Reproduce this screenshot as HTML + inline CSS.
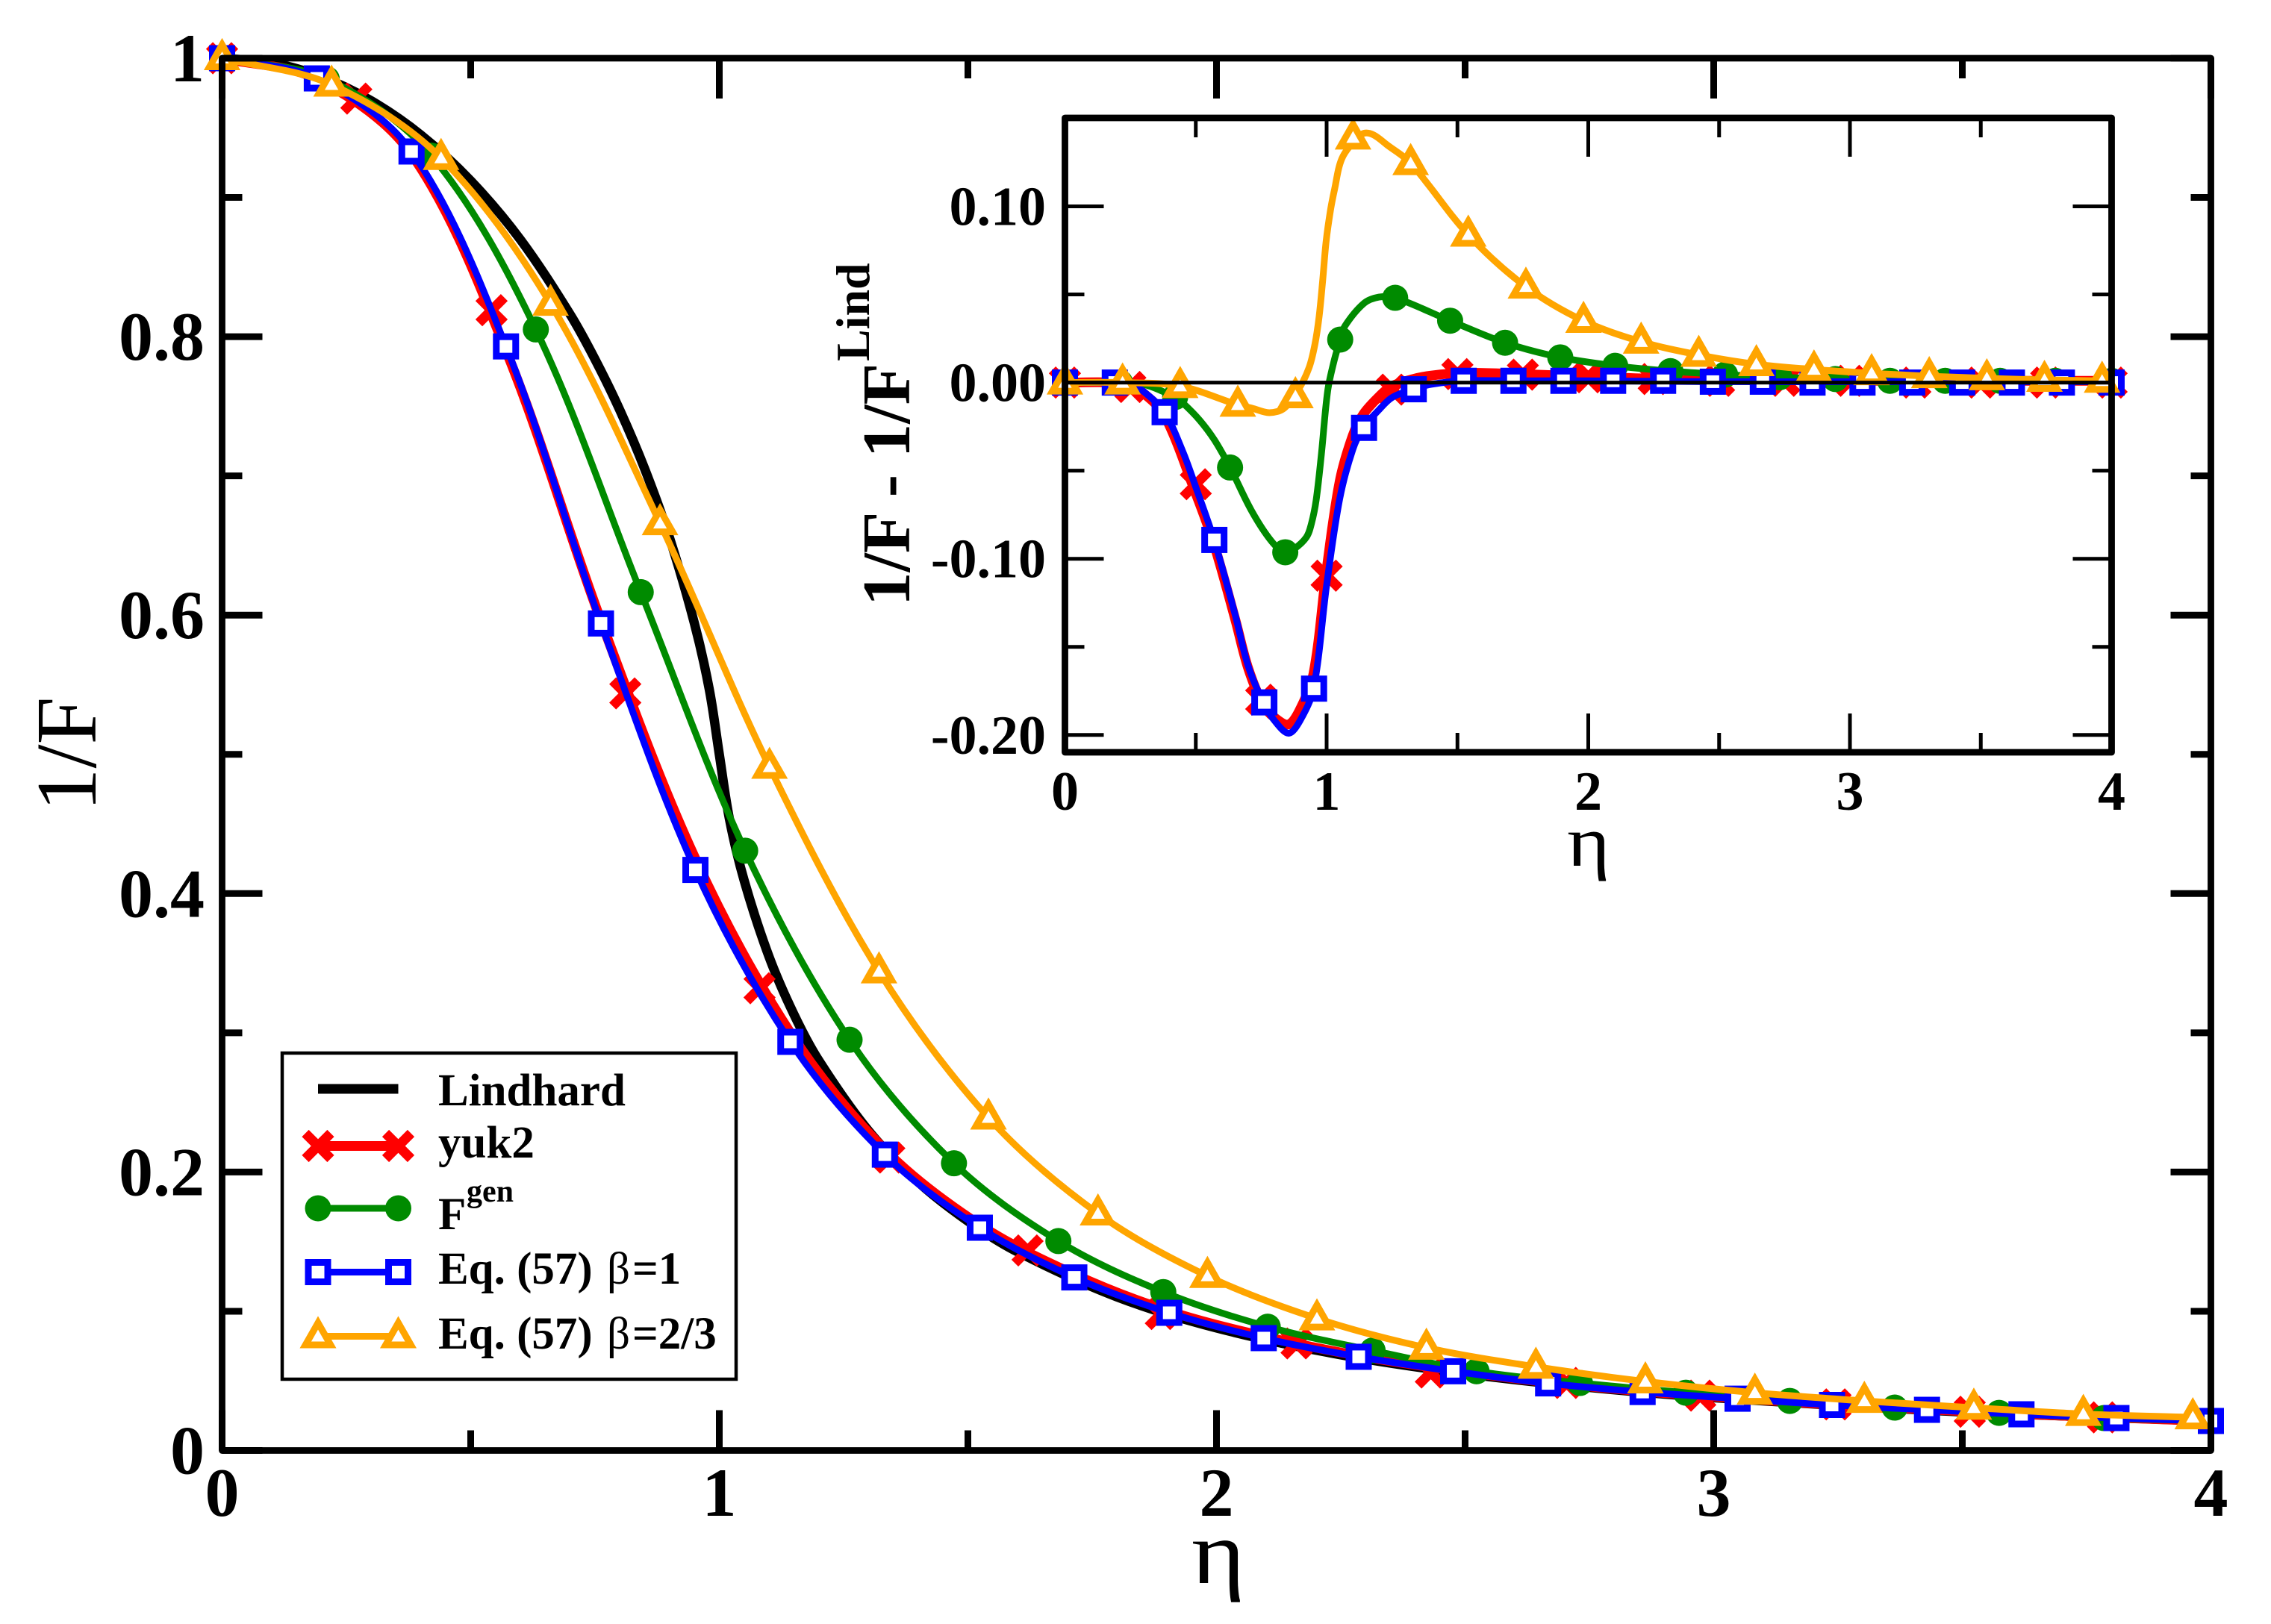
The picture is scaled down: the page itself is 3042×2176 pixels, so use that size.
<!DOCTYPE html>
<html lang="en">
<head>
<meta charset="utf-8">
<title>1/F versus eta chart</title>
<style>
html,body{margin:0;padding:0;background:#fff;}
svg{display:block;}
text{font-family:"Liberation Serif","DejaVu Serif",serif;fill:#000;}
.b{font-weight:bold;}
</style>
</head>
<body>
<svg id="chart" xmlns="http://www.w3.org/2000/svg" width="3042" height="2176" viewBox="0 0 3042 2176">
  <rect x="0" y="0" width="3042" height="2176" fill="#fff"/>
  <g id="main-series"></g>
  <g id="main-axes"></g>
  <text transform="translate(128,1087) rotate(-90)" font-size="115">1/F</text>
  <text transform="translate(1632,2121) scale(1.2,1.05)" font-size="115" text-anchor="middle">η</text>

  <g id="inset-series"></g>
  <g id="inset-axes"></g>
  <text class="b" transform="translate(1218,812) rotate(-90)" font-size="91">1/F - 1/F</text>
  <text class="b" transform="translate(1164,484) rotate(-90)" font-size="64">Lind</text>
  <text transform="translate(2128,1160) scale(1.2,1.05)" font-size="92" text-anchor="middle">η</text>

  <g id="legend">
    <rect x="378" y="1411" width="608" height="437" fill="#fff" stroke="#000" stroke-width="4.5"/>
    <g id="legend-keys"></g>
    <text class="b" x="587" y="1481" font-size="61">Lindhard</text>
    <text class="b" x="587" y="1551" font-size="61">yuk2</text>
    <text class="b" x="587" y="1647" font-size="61">F</text>
    <text class="b" x="625" y="1610" font-size="42">gen</text>
    <text class="b" x="587" y="1720" font-size="61">Eq. (57) <tspan x="813" font-weight="normal">β</tspan><tspan x="847">=1</tspan></text>
    <text class="b" x="587" y="1807" font-size="61">Eq. (57) <tspan x="813" font-weight="normal">β</tspan><tspan x="847">=2/3</tspan></text>
  </g>
</svg>
<script>
// ---------- main panel data ----------
var lindhardEta = [0,0.1,0.2,0.3,0.4,0.5,0.6,0.7,0.75,0.8,0.85,0.9,0.95,0.98,1,1.02,1.05,1.1,1.15,1.2,1.3,1.4,1.5,1.6,1.8,2,2.25,2.5,2.75,3,3.5,4];
var lindhardVal = [1,0.9967,0.9866,0.9694,0.9448,0.912,0.8697,0.816,0.7838,0.7472,0.705,0.6554,0.594,0.5464,0.5,0.4543,0.4094,0.3547,0.3133,0.2802,0.2297,0.1928,0.1647,0.1426,0.1103,0.088,0.0687,0.0552,0.0453,0.0379,0.0277,0.0211];

var yuk2LineEta = [0,0.1905,0.381,0.571,0.762,0.952,1.143,1.333,1.524,1.714,1.905,2.095,2.286,2.476,2.667,2.857,3.048,3.238,3.429,3.619,3.81,4];
var yuk2LineVal = [1,0.985,0.931,0.79,0.596,0.425,0.3,0.216,0.162,0.1265,0.1,0.082,0.068,0.0575,0.049,0.0425,0.0375,0.033,0.0295,0.0262,0.0235,0.0212];
var yuk2MarkEta = [0,0.27,0.542,0.811,1.081,1.342,1.62,1.888,2.161,2.431,2.704,2.973,3.245,3.515,3.783];
var yuk2MarkVal = [1,0.971,0.819,0.5438,0.332,0.2104,0.1437,0.098,0.0769,0.056,0.0485,0.0394,0.0331,0.0278,0.0238];

var fgenEta = [0,0.2105,0.421,0.631,0.842,1.052,1.262,1.472,1.682,1.893,2.103,2.314,2.523,2.731,2.944,3.153,3.364,3.574,3.785,4];
var fgenVal = [1,0.985,0.93,0.8052,0.6165,0.4308,0.295,0.2063,0.1504,0.1138,0.0889,0.0718,0.0569,0.0485,0.0415,0.0356,0.0308,0.027,0.0233,0.0213];

var eqBeta1Eta = [0,0.1905,0.381,0.571,0.762,0.952,1.143,1.333,1.524,1.714,1.905,2.095,2.286,2.476,2.667,2.857,3.048,3.238,3.429,3.619,3.81,4];
var eqBeta1Val = [1,0.9855,0.933,0.793,0.594,0.417,0.2935,0.2125,0.16,0.1243,0.0989,0.0807,0.0673,0.0569,0.0482,0.042,0.0372,0.0327,0.0292,0.026,0.0233,0.0212];

var eqBeta23Eta = [0,0.2202,0.4404,0.6606,0.8808,1.101,1.3212,1.5414,1.7616,1.9818,2.202,2.4222,2.6424,2.8626,3.0828,3.303,3.5232,3.7434,3.9636];
var eqBeta23Val = [1,0.981,0.9283,0.8236,0.666,0.491,0.3441,0.2391,0.1702,0.1253,0.0948,0.0738,0.0601,0.0496,0.0415,0.0356,0.0307,0.0262,0.0238];

// ---------- inset panel data ----------
var insetBlueLineEta = [0,0.19,0.25,0.3,0.38,0.45,0.5,0.57,0.65,0.7,0.758,0.8,0.855,0.9,0.95,1,1.05,1.1,1.14,1.2,1.25,1.33,1.4,1.52,1.71,2,2.5,3,3.5,4];
var insetBlueLineVal = [0,0,-0.001,-0.005,-0.0168,-0.039,-0.0593,-0.0893,-0.1315,-0.1607,-0.1815,-0.1917,-0.199,-0.1915,-0.1737,-0.115,-0.066,-0.038,-0.0257,-0.0155,-0.0085,-0.0038,-0.001,0.001,0.001,0.001,0.0005,0.0005,0.0005,0.0005];
var insetBlueMarkVal = [0,0,-0.0168,-0.0893,-0.1815,-0.1737,-0.0257,-0.0038,0.001,0.001,0.001,0.001,0.001,0.0005,0.0005,0,0,0,0,0,0,0];

var insetRedLineEta = [0,0.19,0.25,0.3,0.38,0.5,0.57,0.65,0.7,0.758,0.8,0.855,0.9,0.95,1,1.05,1.1,1.14,1.2,1.25,1.33,1.4,1.52,1.71,1.9,2.29,2.67,3,3.5,4];
var insetRedLineVal = [0,0,-0.002,-0.006,-0.0185,-0.063,-0.092,-0.134,-0.162,-0.183,-0.19,-0.194,-0.185,-0.165,-0.106,-0.056,-0.03,-0.018,-0.008,-0.002,0.002,0.004,0.0055,0.005,0.004,0.002,0.0015,0.001,0.001,0.001];
var insetRedMarkEta = [0,0.25,0.5,0.75,1,1.25,1.5,1.75,2,2.25,2.5,2.75,3,3.25,3.5,3.75,4];
var insetRedMarkVal = [0,-0.0025,-0.0577,-0.18,-0.1096,-0.004,0.0048,0.0045,0.003,0.002,0.001,0.001,0.001,0,0,0,0];

var insetGreenLineEta = [0,0.21,0.3,0.42,0.45,0.514,0.571,0.631,0.714,0.789,0.84,0.875,0.923,0.942,0.96,0.98,1.004,1.028,1.052,1.07,1.143,1.2,1.262,1.472,1.682,1.893,2.103,2.314,2.523,2.731,2.944,3.153,3.364,3.574,3.785,4];
var insetGreenLineVal = [0,0,-0.001,-0.0082,-0.0115,-0.0212,-0.0325,-0.0482,-0.073,-0.09,-0.0963,-0.0945,-0.0877,-0.08,-0.0667,-0.0407,-0.0048,0.012,0.0244,0.0321,0.045,0.0485,0.0481,0.0351,0.0226,0.0143,0.0095,0.0065,0.0045,0.003,0.002,0.001,0.001,0.001,0.001,0.001];
var insetGreenMarkVal = [0,0,-0.0082,-0.0482,-0.0963,0.0244,0.0481,0.0351,0.0226,0.0143,0.0095,0.0065,0.0045,0.003,0.002,0.001,0.001,0.001,0.001,0.001];

var insetOrangeLineEta = [0,0.22,0.44,0.66,0.714,0.781,0.838,0.895,0.933,0.955,0.971,0.985,0.998,1.015,1.03,1.058,1.111,1.143,1.18,1.23,1.3212,1.5414,1.7616,1.9818,2.202,2.4222,2.6424,2.8626,3.0828,3.303,3.5232,3.7434,3.9636,4];
var insetOrangeLineVal = [0,0,-0.002,-0.0126,-0.0145,-0.0171,-0.0145,-0.0033,0.0085,0.0215,0.037,0.058,0.08,0.098,0.1094,0.127,0.138,0.1415,0.1405,0.135,0.1245,0.0839,0.0544,0.035,0.0232,0.0157,0.0104,0.0074,0.0053,0.0036,0.0024,0.0015,0.001,0.001];
var insetOrangeMarkEta = [0,0.2202,0.4404,0.6606,0.8808,1.101,1.3212,1.5414,1.7616,1.9818,2.202,2.4222,2.6424,2.8626,3.0828,3.303,3.5232,3.7434,3.9636];
var insetOrangeMarkVal = [0,0,-0.002,-0.0126,-0.0078,0.139,0.1245,0.0839,0.0544,0.035,0.0232,0.0157,0.0104,0.0074,0.0053,0.0036,0.0024,0.0015,0.001];

// ---------- tick labels ----------
var mainXTickValues = [0,1,2,3,4];
var mainXTickLabels = ["0","1","2","3","4"];
var mainXMinorValues = [0.5,1.5,2.5,3.5];
var mainYTickValues = [0,0.2,0.4,0.6,0.8,1];
var mainYTickLabels = ["0","0.2","0.4","0.6","0.8","1"];
var mainYMinorValues = [0.1,0.3,0.5,0.7,0.9];

var insetXTickValues = [0,1,2,3,4];
var insetXTickLabels = ["0","1","2","3","4"];
var insetXMinorValues = [0.5,1.5,2.5,3.5];
var insetYTickValues = [-0.2,-0.1,0,0.1];
var insetYTickLabels = ["-0.20","-0.10","0.00","0.10"];
var insetYMinorValues = [-0.15,-0.05,0.05];

// ---------- scales ----------
var SVGNS = "http://www.w3.org/2000/svg";
function mainX(v){ return 297.5 + v * (2961.5 - 297.5) / 4; }
function mainY(v){ return 1943.5 - v * (1943.5 - 78); }
function insetX(v){ return 1426.5 + v * (2828.5 - 1426.5) / 4; }
function insetY(v){ return 512.6 - v * 2361; }

var COLOR_RED = "#ff0000", COLOR_GREEN = "#008b00", COLOR_BLUE = "#0000ff", COLOR_ORANGE = "#ffa500";

function smoothPath(etas, vals, sx, sy){
  var p = [], i;
  for (i = 0; i < etas.length; i++) p.push([sx(etas[i]), sy(vals[i])]);
  var t = [0];
  for (i = 1; i < p.length; i++) t.push(t[i-1] + Math.hypot(p[i][0]-p[i-1][0], p[i][1]-p[i-1][1]) + 0.001);
  function tangent(k){
    var a = Math.max(0, k-1), b = Math.min(p.length-1, k+1);
    return [(p[b][0]-p[a][0])/(t[b]-t[a]), (p[b][1]-p[a][1])/(t[b]-t[a])];
  }
  var d = "M" + p[0][0].toFixed(2) + " " + p[0][1].toFixed(2);
  for (i = 0; i < p.length-1; i++){
    var h = (t[i+1]-t[i])/3, m0 = tangent(i), m1 = tangent(i+1);
    d += "C" + (p[i][0]+m0[0]*h).toFixed(2) + " " + (p[i][1]+m0[1]*h).toFixed(2) + " " +
         (p[i+1][0]-m1[0]*h).toFixed(2) + " " + (p[i+1][1]-m1[1]*h).toFixed(2) + " " +
         p[i+1][0].toFixed(2) + " " + p[i+1][1].toFixed(2);
  }
  return d;
}

function drawCurve(parent, etas, vals, sx, sy, color, width, name){
  var el = document.createElementNS(SVGNS, "path");
  el.setAttribute("d", smoothPath(etas, vals, sx, sy));
  el.setAttribute("fill", "none");
  el.setAttribute("stroke", color);
  el.setAttribute("stroke-width", width);
  el.setAttribute("stroke-linejoin", "round");
  
  
  parent.appendChild(el);
}

function drawCross(parent, cx, cy, name){
  var el = document.createElementNS(SVGNS, "path");
  var d = 17;
  el.setAttribute("d", "M"+(cx-d)+" "+(cy-d)+"L"+(cx+d)+" "+(cy+d)+"M"+(cx+d)+" "+(cy-d)+"L"+(cx-d)+" "+(cy+d));
  el.setAttribute("stroke", COLOR_RED);
  el.setAttribute("stroke-width", 13);
  el.setAttribute("fill", "none");
  
  
  parent.appendChild(el);
}
function drawCircle(parent, cx, cy, name){
  var el = document.createElementNS(SVGNS, "circle");
  el.setAttribute("cx", cx);
  el.setAttribute("cy", cy);
  el.setAttribute("r", 17.5);
  el.setAttribute("fill", COLOR_GREEN);
  
  
  parent.appendChild(el);
}
function drawSquare(parent, cx, cy, name){
  var el = document.createElementNS(SVGNS, "rect");
  el.setAttribute("x", cx-13);
  el.setAttribute("y", cy-13);
  el.setAttribute("width", 26);
  el.setAttribute("height", 26);
  el.setAttribute("fill", "#fff");
  el.setAttribute("stroke", COLOR_BLUE);
  el.setAttribute("stroke-width", 9);
  
  
  parent.appendChild(el);
}
function drawTriangle(parent, cx, cy, name){
  var el = document.createElementNS(SVGNS, "polygon");
  el.setAttribute("points", cx+","+(cy-18)+" "+(cx+16.8)+","+(cy+11.5)+" "+(cx-16.8)+","+(cy+11.5));
  el.setAttribute("fill", "#fff");
  el.setAttribute("stroke", COLOR_ORANGE);
  el.setAttribute("stroke-width", 9);
  
  
  parent.appendChild(el);
}
function drawMarks(parent, etas, vals, sx, sy, drawer, name){
  for (var i = 0; i < etas.length; i++) drawer(parent, sx(etas[i]), sy(vals[i]), name);
}

function addLine(parent, x1, y1, x2, y2, width, name){
  var el = document.createElementNS(SVGNS, "line");
  el.setAttribute("x1", x1);
  el.setAttribute("y1", y1);
  el.setAttribute("x2", x2);
  el.setAttribute("y2", y2);
  el.setAttribute("stroke", "#000");
  el.setAttribute("stroke-width", width);
  
  
  parent.appendChild(el);
}
function addLabel(parent, x, y, str, size, anchor, name){
  var el = document.createElementNS(SVGNS, "text");
  el.setAttribute("x", x);
  el.setAttribute("y", y);
  el.setAttribute("font-size", size);
  el.setAttribute("font-weight", "bold");
  el.setAttribute("text-anchor", anchor);
  
  
  el.textContent = str;
  parent.appendChild(el);
}

function drawAxes(parent, o){
  var i, x0 = o.sx(0), x1 = o.sx(4), yB = o.yBottom, yT = o.yTop;
  o.xMajor.forEach(function(v){
    addLine(parent, o.sx(v), yB, o.sx(v), yB - o.majorLen, o.tickW, "x-major-tick");
    addLine(parent, o.sx(v), yT, o.sx(v), yT + o.majorLen, o.tickW, "x-major-tick-top");
  });
  o.xMinor.forEach(function(v){
    addLine(parent, o.sx(v), yB, o.sx(v), yB - o.minorLen, o.tickW, "x-minor-tick");
    addLine(parent, o.sx(v), yT, o.sx(v), yT + o.minorLen, o.tickW, "x-minor-tick-top");
  });
  o.yMajor.forEach(function(v){
    addLine(parent, x0, o.sy(v), x0 + o.majorLen, o.sy(v), o.tickW, "y-major-tick");
    addLine(parent, x1, o.sy(v), x1 - o.majorLen, o.sy(v), o.tickW, "y-major-tick-right");
  });
  o.yMinor.forEach(function(v){
    addLine(parent, x0, o.sy(v), x0 + o.minorLen, o.sy(v), o.tickW, "y-minor-tick");
    addLine(parent, x1, o.sy(v), x1 - o.minorLen, o.sy(v), o.tickW, "y-minor-tick-right");
  });
  var frame = document.createElementNS(SVGNS, "rect");
  frame.setAttribute("x", x0);
  frame.setAttribute("y", yT);
  frame.setAttribute("width", x1 - x0);
  frame.setAttribute("height", yB - yT);
  frame.setAttribute("fill", "none");
  frame.setAttribute("stroke", "#000");
  frame.setAttribute("stroke-width", 8.8);
  frame.setAttribute("stroke-linejoin", "round");
  
  
  parent.appendChild(frame);
  for (i = 0; i < o.xMajor.length; i++)
    addLabel(parent, o.sx(o.xMajor[i]), o.xLabelY, o.xLabels[i], o.fontSize, "middle", "x-tick-label");
  for (i = 0; i < o.yMajor.length; i++)
    addLabel(parent, o.yLabelX, o.sy(o.yMajor[i]) + o.yLabelOff, o.yLabels[i], o.fontSize, "end", "y-tick-label");
}

// ---------- main series ----------
var ms = document.getElementById("main-series");
drawCurve(ms, lindhardEta, lindhardVal, mainX, mainY, "#000", 12.5, "lindhard-line");
drawCurve(ms, yuk2LineEta, yuk2LineVal, mainX, mainY, COLOR_RED, 13, "yuk2-line");
drawMarks(ms, yuk2MarkEta, yuk2MarkVal, mainX, mainY, drawCross, "yuk2-marker");
drawCurve(ms, fgenEta, fgenVal, mainX, mainY, COLOR_GREEN, 9, "fgen-line");
drawMarks(ms, fgenEta, fgenVal, mainX, mainY, drawCircle, "fgen-marker");
drawCurve(ms, eqBeta1Eta, eqBeta1Val, mainX, mainY, COLOR_BLUE, 9, "eq57-beta1-line");
drawMarks(ms, eqBeta1Eta, eqBeta1Val, mainX, mainY, drawSquare, "eq57-beta1-marker");
drawCurve(ms, eqBeta23Eta, eqBeta23Val, mainX, mainY, COLOR_ORANGE, 9, "eq57-beta23-line");
drawMarks(ms, eqBeta23Eta, eqBeta23Val, mainX, mainY, drawTriangle, "eq57-beta23-marker");

drawAxes(document.getElementById("main-axes"), {
  sx: mainX, sy: mainY, yBottom: 1943.5, yTop: 78,
  xMajor: mainXTickValues, xMinor: mainXMinorValues, yMajor: mainYTickValues, yMinor: mainYMinorValues,
  xLabels: mainXTickLabels, yLabels: mainYTickLabels,
  majorLen: 54, minorLen: 27, tickW: 9, fontSize: 92,
  xLabelY: 2031, yLabelX: 274, yLabelOff: 31
});

// ---------- inset series ----------
var is = document.getElementById("inset-series");
drawCurve(is, insetRedLineEta, insetRedLineVal, insetX, insetY, COLOR_RED, 13, "inset-yuk2-line");
drawMarks(is, insetRedMarkEta, insetRedMarkVal, insetX, insetY, drawCross, "inset-yuk2-marker");
drawCurve(is, insetGreenLineEta, insetGreenLineVal, insetX, insetY, COLOR_GREEN, 9, "inset-fgen-line");
drawMarks(is, fgenEta, insetGreenMarkVal, insetX, insetY, drawCircle, "inset-fgen-marker");
drawCurve(is, insetBlueLineEta, insetBlueLineVal, insetX, insetY, COLOR_BLUE, 9, "inset-eq57-beta1-line");
drawMarks(is, eqBeta1Eta, insetBlueMarkVal, insetX, insetY, drawSquare, "inset-eq57-beta1-marker");
drawCurve(is, insetOrangeLineEta, insetOrangeLineVal, insetX, insetY, COLOR_ORANGE, 9, "inset-eq57-beta23-line");
drawMarks(is, insetOrangeMarkEta, insetOrangeMarkVal, insetX, insetY, drawTriangle, "inset-eq57-beta23-marker");
addLine(is, insetX(0), insetY(0), insetX(4), insetY(0), 5, "inset-zero-line");

drawAxes(document.getElementById("inset-axes"), {
  sx: insetX, sy: insetY, yBottom: 1008, yTop: 158,
  xMajor: insetXTickValues, xMinor: insetXMinorValues, yMajor: insetYTickValues, yMinor: insetYMinorValues,
  xLabels: insetXTickLabels, yLabels: insetYTickLabels,
  majorLen: 52, minorLen: 26, tickW: 5, fontSize: 74,
  xLabelY: 1085, yLabelX: 1401, yLabelOff: 25
});

// ---------- legend keys ----------
var lk = document.getElementById("legend-keys");
function keyLine(y, color, w, name){
  var el = document.createElementNS(SVGNS, "line");
  el.setAttribute("x1", 426);
  el.setAttribute("x2", 533.5);
  el.setAttribute("y1", y);
  el.setAttribute("y2", y);
  el.setAttribute("stroke", color);
  el.setAttribute("stroke-width", w);
  
  
  lk.appendChild(el);
}
keyLine(1459, "#000", 13, "legend-key-lindhard");
keyLine(1535.5, COLOR_RED, 13, "legend-key-yuk2");
drawCross(lk, 426, 1535.5, "legend-marker-yuk2");
drawCross(lk, 533.5, 1535.5, "legend-marker-yuk2");
keyLine(1619, COLOR_GREEN, 9, "legend-key-fgen");
drawCircle(lk, 426, 1619, "legend-marker-fgen");
drawCircle(lk, 533.5, 1619, "legend-marker-fgen");
keyLine(1704.5, COLOR_BLUE, 9, "legend-key-eq57-beta1");
drawSquare(lk, 426, 1704.5, "legend-marker-eq57-beta1");
drawSquare(lk, 533.5, 1704.5, "legend-marker-eq57-beta1");
keyLine(1790.5, COLOR_ORANGE, 9, "legend-key-eq57-beta23");
drawTriangle(lk, 426, 1790.5, "legend-marker-eq57-beta23");
drawTriangle(lk, 533.5, 1790.5, "legend-marker-eq57-beta23");
</script>
</body>
</html>
